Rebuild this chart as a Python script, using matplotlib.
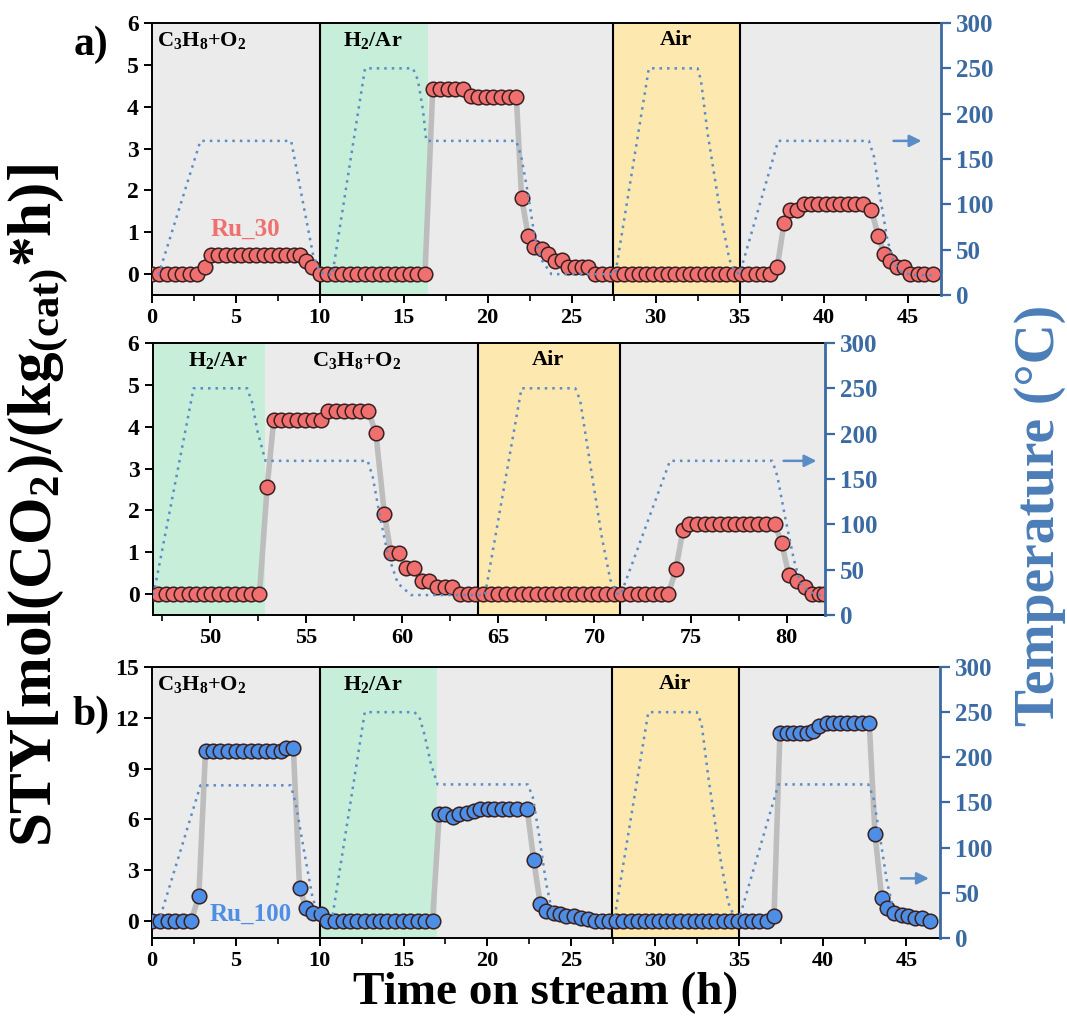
import numpy as np
import matplotlib
matplotlib.use('Agg')
import matplotlib.pyplot as plt
from matplotlib.ticker import MultipleLocator
from matplotlib.transforms import blended_transform_factory

plt.rcParams['font.family'] = 'Liberation Serif'
plt.rcParams['font.weight'] = 'bold'
plt.rcParams['mathtext.fontset'] = 'custom'
plt.rcParams['mathtext.rm'] = 'Liberation Serif:bold'
plt.rcParams['mathtext.it'] = 'Liberation Serif:italic:bold'
plt.rcParams['mathtext.bf'] = 'Liberation Serif:bold'

# ---- Ru_30, first 47 h (panel a)
t_a = [0.0, 0.46, 0.91, 1.36, 1.81, 2.26, 2.72, 3.19,
       3.52, 3.97, 4.42, 4.87, 5.32, 5.77, 6.22, 6.67, 7.12, 7.57, 8.02, 8.47, 8.82,
       9.16, 9.56,
       10.0, 10.45, 10.9, 11.34, 11.79, 12.24, 12.69, 13.14, 13.58, 14.03, 14.48, 14.93, 15.38, 15.82, 16.27,
       16.73, 17.17, 17.62, 18.07, 18.53, 19.02, 19.42, 19.88, 20.33, 20.79, 21.25, 21.71,
       22.02, 22.42, 22.78, 23.21, 23.6, 24.0, 24.44, 24.8, 25.2, 25.6, 26.0,
       26.39, 26.83, 27.26, 27.7, 28.13, 28.57, 29.0, 29.44, 29.87, 30.31, 30.74, 31.18, 31.61,
       32.05, 32.48, 32.92, 33.35, 33.79, 34.22, 34.66, 35.09, 35.53, 35.96, 36.4, 36.83,
       37.25, 37.65, 38.0, 38.45, 38.85,
       39.24, 39.68, 40.12, 40.55, 40.99, 41.43, 41.86, 42.36,
       42.85, 43.25, 43.6, 43.95, 44.35, 44.8, 45.15, 45.6, 46.0, 46.5]
sty_a = [0, 0, 0, 0, 0, 0, 0, 0.18,
         0.46, 0.46, 0.46, 0.46, 0.46, 0.46, 0.46, 0.46, 0.46, 0.46, 0.46, 0.46, 0.46,
         0.32, 0.18,
         0, 0, 0, 0, 0, 0, 0, 0, 0, 0, 0, 0, 0, 0, 0,
         4.42, 4.42, 4.42, 4.42, 4.42, 4.26, 4.24, 4.24, 4.24, 4.24, 4.24, 4.24,
         1.83, 0.91, 0.64, 0.61, 0.48, 0.32, 0.33, 0.16, 0.16, 0.16, 0.18,
         0, 0, 0, 0, 0, 0, 0, 0, 0, 0, 0, 0, 0,
         0, 0, 0, 0, 0, 0, 0, 0, 0, 0, 0, 0,
         0.18, 1.22, 1.52, 1.52, 1.68,
         1.68, 1.68, 1.68, 1.68, 1.68, 1.68, 1.68, 1.68,
         1.54, 0.92, 0.48, 0.32, 0.18, 0.18, 0, 0, 0, 0]
tt_a = [0.4, 2.9, 8.3, 9.6, 10.0, 10.75, 12.7, 15.55, 15.85, 16.15, 16.35, 21.7, 22.0, 22.4,
        22.8, 23.2, 23.8, 27.6, 29.6, 32.5, 32.7, 33.1, 33.9, 34.4, 34.7, 35.0, 37.3, 42.7,
        43.0, 43.4, 43.8, 44.2, 44.6, 45.2, 46.6]
temp_a = [22, 170, 170, 45, 25, 22, 250, 250, 237, 204, 170, 170, 153, 112,
          64, 39, 23, 23, 250, 250, 237, 178, 86, 39, 26, 23, 170, 170,
          153, 105, 61, 35, 26, 22, 22]

# ---- Ru_30, 47-82 h (middle panel)
t_m = [46.86, 47.26, 47.68, 48.08, 48.47, 48.87, 49.27, 49.65, 50.05, 50.47, 50.87, 51.27, 51.69, 52.14, 52.56,
       52.96,
       53.3, 53.7, 54.12, 54.52, 54.92, 55.34, 55.74,
       56.13, 56.53, 56.97, 57.37, 57.79, 58.22,
       58.62, 59.06, 59.4, 59.8, 60.2, 60.6, 61.0, 61.4, 61.8, 62.2, 62.6,
       63.0, 63.4, 63.8, 64.2, 64.6, 65.0, 65.4, 65.8, 66.2, 66.6, 67.0, 67.4, 67.8, 68.2,
       68.6, 69.0, 69.4, 69.8, 70.2, 70.6, 71.0, 71.4, 71.85, 72.25, 72.65, 73.05, 73.45, 73.85,
       74.24, 74.6,
       74.93, 75.33, 75.73, 76.12, 76.53, 76.93, 77.32, 77.73, 78.12, 78.52, 78.94, 79.38,
       79.74, 80.12, 80.55, 80.98, 81.32, 81.67, 81.93]
sty_m = [0, 0, 0, 0, 0, 0, 0, 0, 0, 0, 0, 0, 0, 0, 0,
         2.56,
         4.15, 4.15, 4.15, 4.15, 4.15, 4.15, 4.15,
         4.38, 4.38, 4.38, 4.38, 4.38, 4.38,
         3.84, 1.92, 0.98, 0.98, 0.62, 0.62, 0.3, 0.3, 0.16, 0.16, 0.18,
         0, 0, 0, 0, 0, 0, 0, 0, 0, 0, 0, 0, 0, 0,
         0, 0, 0, 0, 0, 0, 0, 0, 0, 0, 0, 0, 0, 0,
         0.6, 1.52,
         1.68, 1.68, 1.68, 1.68, 1.68, 1.68, 1.68, 1.68, 1.68, 1.68, 1.68, 1.68,
         1.22, 0.46, 0.32, 0.16, 0, 0, 0]
tt_m = [47.04, 49.13, 51.92, 52.18, 52.44, 52.87, 58.19, 58.45, 58.8, 59.23, 59.76, 60.45,
        64.3, 66.2, 69.0, 69.25, 69.69, 70.38, 70.82, 71.17, 71.36, 73.93, 79.26,
        79.52, 79.95, 80.38, 80.72, 81.15, 81.67, 82.0]
temp_m = [22, 250, 250, 234, 204, 170, 170, 153, 112, 68, 35, 22,
          22, 250, 250, 237, 178, 86, 39, 24, 22, 170, 170,
          153, 105, 61, 35, 26, 22, 22]

# ---- Ru_100 (panel b)
t_b = [0.0, 0.46, 0.94, 1.39, 1.85, 2.33, 2.79,
       3.19, 3.64, 4.08, 4.52, 4.98, 5.44, 5.88, 6.32, 6.77, 7.23, 7.67, 7.97, 8.43,
       8.8, 9.2, 9.6, 10.06,
       10.46, 10.91, 11.36, 11.81, 12.25, 12.7, 13.15, 13.6, 14.04, 14.49, 14.94, 15.39, 15.84, 16.28, 16.73,
       17.13, 17.47, 17.93, 18.33, 18.78, 19.18, 19.58, 20.02, 20.42, 20.86, 21.32, 21.78, 22.37,
       22.77, 23.15, 23.5, 23.96, 24.36, 24.7, 25.14, 25.56, 26.0,
       26.4, 26.83, 27.25, 27.68, 28.11, 28.54, 28.96, 29.39, 29.82, 30.24, 30.67, 31.1, 31.52,
       31.95, 32.38, 32.81, 33.23, 33.66, 34.09, 34.51, 34.94, 35.37, 35.79, 36.22, 36.65,
       37.1, 37.45, 37.85, 38.25, 38.65, 39.08, 39.44, 39.8,
       40.23, 40.63, 41.03, 41.46, 41.86, 42.32, 42.78,
       43.12, 43.52, 43.86, 44.25, 44.71, 45.1, 45.5, 45.9, 46.4]
sty_b = [0, 0, 0, 0, 0, 0, 1.49,
         10.05, 10.05, 10.05, 10.05, 10.05, 10.05, 10.05, 10.05, 10.05, 10.05, 10.05, 10.2, 10.2,
         1.94, 0.77, 0.48, 0.39,
         0, 0, 0, 0, 0, 0, 0, 0, 0, 0, 0, 0, 0, 0, 0,
         6.3, 6.3, 6.13, 6.3, 6.4, 6.52, 6.62, 6.62, 6.62, 6.62, 6.62, 6.62, 6.62,
         3.58, 1.03, 0.58, 0.48, 0.39, 0.29, 0.29, 0.19, 0.15,
         0, 0, 0, 0, 0, 0, 0, 0, 0, 0, 0, 0, 0,
         0, 0, 0, 0, 0, 0, 0, 0, 0, 0, 0, 0,
         0.29, 11.1, 11.1, 11.1, 11.1, 11.1, 11.22, 11.5,
         11.67, 11.67, 11.67, 11.67, 11.67, 11.67, 11.67,
         5.14, 1.37, 0.78, 0.49, 0.35, 0.29, 0.16, 0.16, 0]
tt_b = [0.5, 2.89, 8.27, 8.57, 9.06, 9.56, 9.86, 10.16, 10.76, 12.69, 15.64, 15.94, 16.24,
        16.63, 17.03, 22.41, 22.71, 23.1, 23.5, 23.8, 24.2, 27.6, 29.6, 32.49, 32.78, 33.18,
        33.88, 34.37, 34.67, 35.03, 37.36, 42.72, 43.02, 43.42, 43.82, 44.12, 44.51, 46.6]
temp_b = [24, 169, 169, 149, 97, 46, 28, 24, 24, 250, 250, 245, 226,
          193, 170, 170, 156, 112, 61, 35, 24, 24, 250, 250, 237, 178,
          90, 39, 26, 22, 170, 170, 156, 112, 64, 39, 24, 22]

BG = '#ebebeb'
GREEN = '#c6eed9'
YELLOW = '#fde8b0'
RED = '#f07070'
BLUE = '#4d8ee6'
TCOL = '#5a8cc8'
AXBLUE = '#3b6aa3'

fig = plt.figure(figsize=(10.67, 10.18), dpi=100)


def panel(rect, xlim, ylim, ystep, t, sty, mcol, tt, temp, zones, vlines, labels, arrow):
    ax = fig.add_axes(rect)
    ax.set_facecolor(BG)
    for x0, x1, c in zones:
        ax.axvspan(x0, x1, color=c, lw=0, zorder=0)
    for x in vlines:
        ax.axvline(x, color='k', lw=1.5, zorder=1)
    ax.plot(t, sty, color='#bdbdbd', lw=4, zorder=2)
    ax.plot(t, sty, 'o', ms=10.5, mfc=mcol, mec='#3a2020', mew=1.1, zorder=3)
    ax.set_xlim(*xlim)
    ax.set_ylim(*ylim)
    ax.xaxis.set_major_locator(MultipleLocator(5))
    ax.xaxis.set_minor_locator(MultipleLocator(2.5))
    ax.yaxis.set_major_locator(MultipleLocator(ystep))
    ax.tick_params(axis='x', labelsize=16, width=1.4, length=6, direction='out')
    ax.tick_params(axis='x', which='minor', width=1.2, length=4)
    ax.tick_params(axis='y', labelsize=17, width=1.4, length=6, direction='out')
    for s in ax.spines.values():
        s.set_linewidth(1.4)
    ax.spines['right'].set_visible(False)
    tr = blended_transform_factory(ax.transData, ax.transAxes)
    for x, txt, ha in labels:
        ax.text(x, 0.975, txt, transform=tr, ha=ha, va='top', fontsize=16,
                fontweight='bold', zorder=5)

    ax2 = ax.twinx()
    ax2.plot(tt, temp, color=TCOL, lw=1.8, ls=(0, (1, 2)))
    ax2.set_ylim(0, 300)
    ax2.yaxis.set_major_locator(MultipleLocator(50))
    ax2.tick_params(axis='y', labelsize=18, width=1.6, length=7, colors=AXBLUE)
    for side in ['left', 'top', 'bottom']:
        ax2.spines[side].set_visible(False)
    ax2.spines['right'].set_color(AXBLUE)
    ax2.spines['right'].set_linewidth(2)
    ax2.annotate('', xy=(arrow[1], arrow[2]), xytext=(arrow[0], arrow[2]),
                 arrowprops=dict(arrowstyle='-|>', color=TCOL, lw=1.8, mutation_scale=18))
    return ax, ax2


gas = r'C$_3$H$_8$+O$_2$'
h2 = r'H$_2$/Ar'

axa, _ = panel([0.1422, 0.7102, 0.7398, 0.2672], (0, 47), (-0.5, 6), 1,
               t_a, sty_a, RED, tt_a, temp_a,
               [(10, 16.47, GREEN), (27.45, 35.0, YELLOW)], [10, 27.45, 35.0],
               [(0.3, gas, 'left'), (13.15, h2, 'center'), (31.2, 'Air', 'center')],
               (44.0, 46.0, 170))
axa.text(5.6, 1.08, 'Ru_30', color=RED, fontsize=18, fontweight='bold', ha='center', va='center')

axm, _ = panel([0.1431, 0.3959, 0.6301, 0.2672], (47, 82), (-0.5, 6), 1,
               t_m, sty_m, RED, tt_m, temp_m,
               [(47, 52.84, GREEN), (63.94, 71.32, YELLOW)], [63.94, 71.32],
               [(50.4, h2, 'center'), (57.6, gas, 'center'), (67.6, 'Air', 'center')],
               (79.7, 81.7, 170))

axb, _ = panel([0.1425, 0.0786, 0.7385, 0.2662], (0, 47), (-1, 15), 3,
               t_b, sty_b, BLUE, tt_b, temp_b,
               [(10, 17.0, GREEN), (27.45, 35.0, YELLOW)], [10, 27.45, 35.0],
               [(0.3, gas, 'left'), (13.15, h2, 'center'), (31.2, 'Air', 'center')],
               (44.5, 46.5, 66))
axb.text(5.85, 0.4, 'Ru_100', color=BLUE, fontsize=18, fontweight='bold', ha='center', va='center')

fig.text(0.085, 0.956, 'a)', fontsize=30, fontweight='bold', ha='center', va='center')
fig.text(0.085, 0.298, 'b)', fontsize=30, fontweight='bold', ha='center', va='center')

fig.text(0.036, 0.503, r'STY[mol(CO$_2$)/(kg$_{\mathrm{(cat)}}$*h)]', rotation=90,
         fontsize=44, fontweight='bold', ha='center', va='center')
fig.text(0.975, 0.494, 'Temperature (°C)', rotation=90, color='#4b7db8',
         fontsize=40, fontweight='bold', ha='center', va='center')
fig.text(0.511, 0.025, 'Time on stream (h)', fontsize=34, fontweight='bold',
         ha='center', va='center')

fig.savefig('out.png', dpi=100)
